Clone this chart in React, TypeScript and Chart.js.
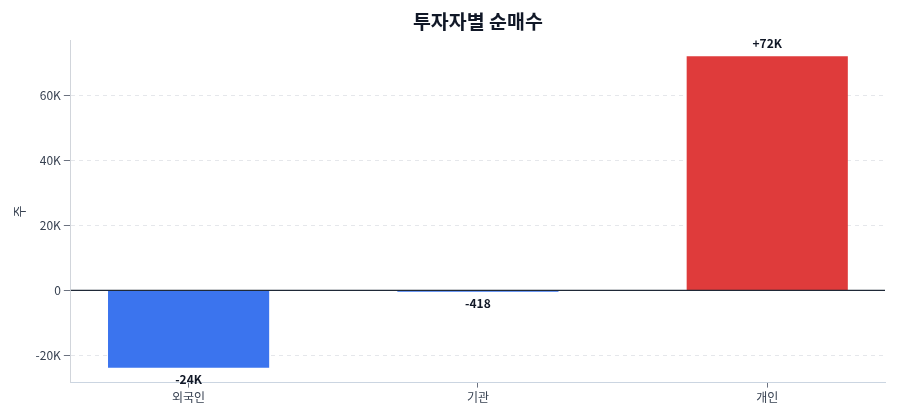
import React, { useEffect, useRef } from "react";
import { Chart, registerables } from "chart.js";

Chart.register(...registerables);

const categories = ["외국인", "기관", "개인"];
const netBuy = [-23800, -418, 72100];
const yTicks = [-20000, 0, 20000, 40000, 60000];
const chartTitle = "투자자별 순매수";
const yAxisTitle = "주";

const FONT = "'Noto Sans CJK KR', 'Noto Sans', sans-serif";

function fmtLabel(v: number): string {
  const a = Math.abs(v);
  if (a >= 1000) return (v > 0 ? "+" : "-") + Math.round(a / 1000) + "K";
  return (v > 0 ? "+" : "") + String(v);
}

function fmtTick(v: number): string {
  if (v === 0) return "0";
  return v / 1000 + "K";
}

const labelPlugin = {
  id: "barLabels",
  afterDatasetsDraw(chart: any) {
    const { ctx, chartArea, scales } = chart;
    const y0 = scales.y.getPixelForValue(0);
    ctx.save();
    ctx.strokeStyle = "#1f2937";
    ctx.lineWidth = 1.2;
    ctx.beginPath();
    ctx.moveTo(chartArea.left, y0);
    ctx.lineTo(chartArea.right, y0);
    ctx.stroke();
    const meta = chart.getDatasetMeta(0);
    ctx.font = `600 12px ${FONT}`;
    ctx.fillStyle = "#111827";
    ctx.textAlign = "center";
    ctx.textBaseline = "middle";
    meta.data.forEach((bar: any, i: number) => {
      const v = netBuy[i];
      const y = v >= 0 ? bar.y - 13 : bar.y + 12;
      ctx.fillText(fmtLabel(v), bar.x, y);
    });
    ctx.restore();
  },
};

export default function App() {
  const ref = useRef<HTMLCanvasElement | null>(null);
  useEffect(() => {
    if (!ref.current) return;
    const chart = new Chart(ref.current, {
      type: "bar",
      data: {
        datasets: [
          {
            data: netBuy.map((v, i) => ({ x: i, y: v })),
            backgroundColor: netBuy.map((v) => (v >= 0 ? "#df3b3b" : "#3b74ee")),
            barPercentage: 0.557,
            categoryPercentage: 1,
          },
        ],
      },
      options: {
        animation: false,
        responsive: true,
        maintainAspectRatio: false,
        layout: { padding: { left: 3, right: 7, top: 0, bottom: 4 } },
        plugins: {
          legend: { display: false },
          tooltip: { enabled: false },
          title: {
            display: true,
            text: chartTitle,
            fullSize: false,
            color: "#111827",
            font: { family: FONT, size: 19.5, weight: "bold" },
            padding: { top: 2, bottom: 7 },
          },
        },
        scales: {
          x: {
            type: "linear",
            min: -0.407,
            max: 2.407,
            offset: false,
            afterBuildTicks: (scale: any) => {
              scale.ticks = categories.map((_, i) => ({ value: i }));
            },
            grid: {
              display: true,
              offset: false,
              drawOnChartArea: false,
              drawTicks: true,
              tickLength: 5,
              tickColor: "#6b7280",
            },
            border: { display: true, color: "#cbd5e1" },
            ticks: {
              color: "#374151",
              font: { family: FONT, size: 12 },
              padding: 3,
              autoSkip: false,
              maxRotation: 0,
              callback: (v: any) => categories[Math.round(Number(v))] ?? "",
            },
          },
          y: {
            min: -28400,
            max: 77000,
            afterBuildTicks: (scale: any) => {
              scale.ticks = yTicks.map((v) => ({ value: v }));
            },
            grid: {
              color: "#e5e7eb",
              tickColor: "#6b7280",
              tickLength: 7,
            },
            border: { display: true, color: "#d1d5db", dash: [4, 4] },
            ticks: {
              color: "#374151",
              font: { family: FONT, size: 12 },
              padding: 3,
              callback: (v: any) => fmtTick(Number(v)),
            },
            title: {
              display: true,
              text: yAxisTitle,
              color: "#374151",
              font: { family: FONT, size: 13 },
              padding: { top: 0, bottom: 6 },
            },
          },
        },
      },
      plugins: [labelPlugin],
    });
    return () => chart.destroy();
  }, []);
  return (
    <div style={{ position: "relative", width: "100%", height: 404 }}>
      <canvas ref={ref} />
    </div>
  );
}
